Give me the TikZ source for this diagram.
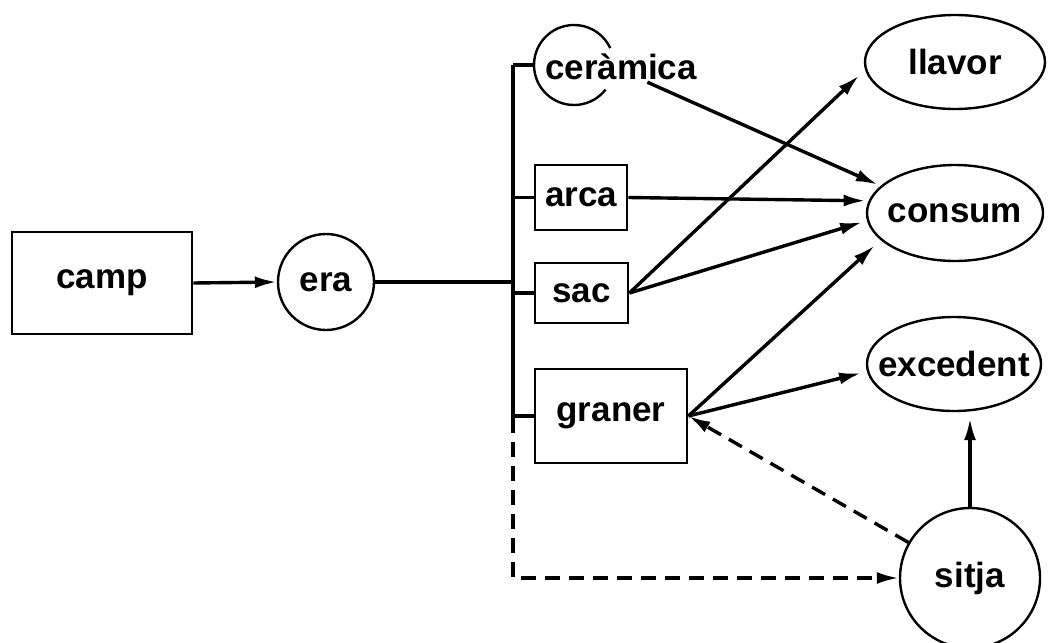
\documentclass[tikz,border=0pt]{standalone}
\usepackage{fontspec}
\setmainfont{Liberation Sans}
\usetikzlibrary{arrows.meta,shapes.geometric}
\begin{document}
\begin{tikzpicture}[x=1pt,y=-1pt,
  lbl/.style={font=\fontsize{35}{40}\selectfont\bfseries},
  boxn/.style={lbl,draw,rectangle,line width=2.8pt,inner sep=0pt},
  circn/.style={draw,circle,line width=2.4pt,inner sep=0pt},
  elln/.style={draw,ellipse,line width=2.4pt,inner sep=0pt},
  link/.style={line width=3.4pt},
  arr/.style={link,-{Latex[length=22pt,width=12pt]}},
  dlink/.style={dashed,dash pattern=on 15pt off 9pt}
]
\useasboundingbox (0,0) rectangle (1048,642);

% nodes
\node[boxn,minimum width=180pt,minimum height=102pt] (camp) at (102,283) {camp};
\node[circn,minimum size=96pt,label={[lbl]center:era}] (era) at (326,282) {};
\node[lbl,inner sep=2pt] (cer) at (621,67) {ceràmica};
\coordinate (cerc) at (574,65);
\coordinate (cerl) at (534,65);
\node[boxn,minimum width=92pt,minimum height=65pt] (arca) at (581,197.5) {arca};
\node[boxn,minimum width=93pt,minimum height=60pt] (sac) at (581.5,293) {sac};
\node[boxn,minimum width=152pt,minimum height=94pt] (graner) at (611,416) {graner};
\node[elln,minimum width=180pt,minimum height=94pt,label={[lbl]center:llavor}] (llavor) at (955,62) {};
\node[elln,minimum width=176pt,minimum height=96pt,label={[lbl]center:consum}] (consum) at (955,213) {};
\node[elln,minimum width=174pt,minimum height=94pt,label={[lbl]center:excedent}] (exc) at (954,364) {};
\node[circn,minimum size=140pt,label={[lbl]center:sitja}] (sitja) at (970,578) {};

% ceramica partial circle
\draw[line width=2.4pt] (cerc) ++(38:40) arc[start angle=38,end angle=335,radius=40];

% bus
\coordinate (b0) at (513,65);
\coordinate (b4) at (513,418);
\draw[link] (b0) -- (b4);
\draw[link] (b0) -- (cerl);
\draw[link] (arca.west -| b0) -- (arca.west);
\draw[link] (sac.west -| b0) -- (sac.west);
\draw[link] (graner.west -| b0) -- (graner.west);
\draw[link] (era.east) -- (era.east -| b0);

% arrows
\draw[arr] (camp.east) -- (era.west);
\draw[arr,shorten >=3pt] (cer.-30) -- (consum.160);
\draw[arr,shorten >=3pt] (arca.east) -- (consum.172);
\draw[arr,shorten >=8pt] (sac.east) -- (llavor.185);
\draw[arr,shorten >=5pt] (sac.east) -- (consum.185);
\draw[arr,shorten >=8pt] (graner.east) -- (consum.200);
\draw[arr,shorten >=6pt] (graner.east) -- (exc.185);
\draw[arr,shorten >=6pt] (sitja.north) -- (sitja.north |- exc.south);
\draw[arr,dlink] (sitja.150) -- (graner.east);
\draw[arr,dlink] (b4) -- (b4 |- sitja.west) -- (sitja.west);
\end{tikzpicture}
\end{document}
